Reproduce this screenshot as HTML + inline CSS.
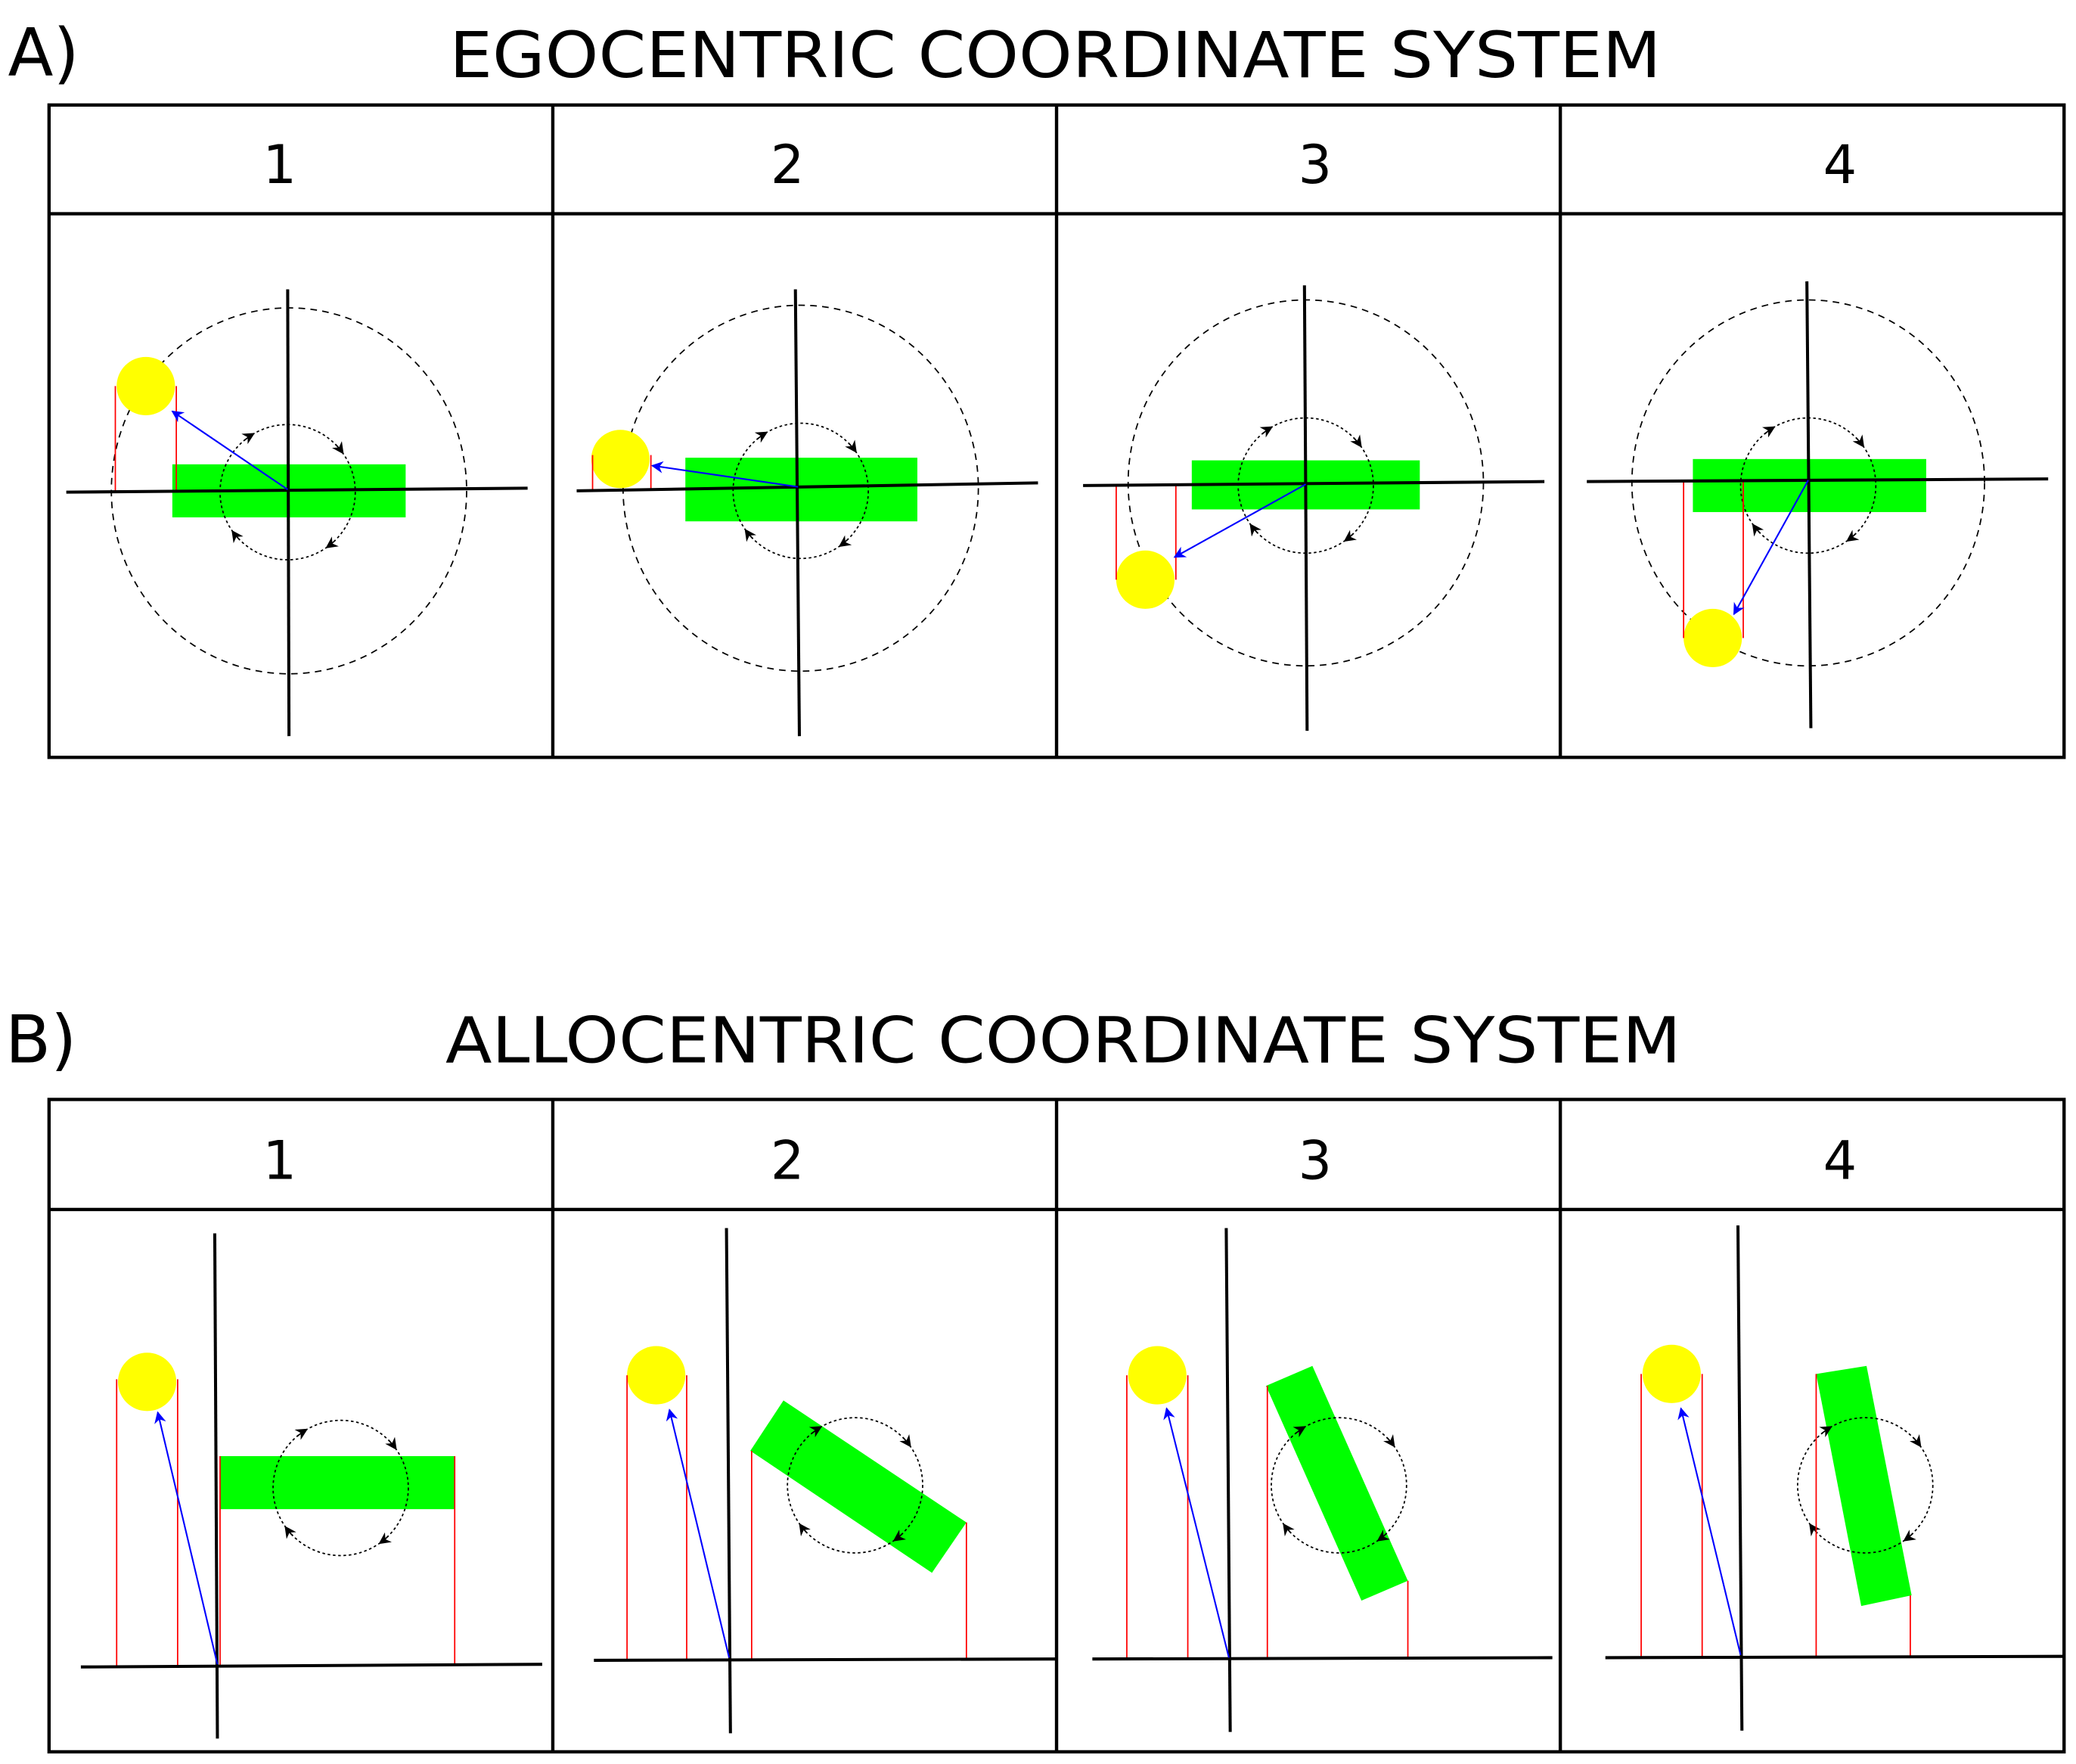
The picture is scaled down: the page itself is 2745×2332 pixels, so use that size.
<!DOCTYPE html>
<html><head><meta charset="utf-8"><style>html,body{margin:0;padding:0;background:#fff}svg{display:block}</style></head>
<body>
<svg width="2745" height="2332" viewBox="0 0 1566 1330" xmlns="http://www.w3.org/2000/svg">
<defs>
<marker id="ah" viewBox="0 0 10 10" refX="9" refY="5" markerWidth="9" markerHeight="9" orient="auto" markerUnits="userSpaceOnUse"><path d="M0,0 L10,5 L0,10 L3,5 Z" fill="#000"/></marker>
<marker id="bh" viewBox="0 0 10 10" refX="9" refY="5" markerWidth="9" markerHeight="9" orient="auto" markerUnits="userSpaceOnUse"><path d="M0,0 L10,5 L0,10 L3,5 Z" fill="#00f"/></marker>
<g id="rot" fill="none" stroke="#000" stroke-width="1">
<circle r="51" stroke-dasharray="2,2"/>
<path d="M -32.8 -39 A 51 51 0 0 1 -25.5 -44.2" marker-end="url(#ah)"/>
<path d="M 36.1 -36.1 A 51 51 0 0 1 41.8 -29.3" marker-end="url(#ah)"/>
<path d="M 36.1 36.1 A 51 51 0 0 1 29.3 41.8" marker-end="url(#ah)"/>
<path d="M -36.1 36.1 A 51 51 0 0 1 -41.8 29.3" marker-end="url(#ah)"/>
</g>
</defs>
<rect width="1566" height="1330" fill="#fff"/>
<g font-family="DejaVu Sans, Liberation Sans, sans-serif" fill="#000">
<text x="6" y="57" font-size="50">A)</text>
<text x="796" y="58" font-size="48" text-anchor="middle" textLength="914" lengthAdjust="spacingAndGlyphs">EGOCENTRIC COORDINATE SYSTEM</text>
<text x="4" y="801" font-size="50">B)</text>
<text x="802" y="801" font-size="48" text-anchor="middle" textLength="932" lengthAdjust="spacingAndGlyphs">ALLOCENTRIC COORDINATE SYSTEM</text>
<g font-size="40" text-anchor="middle">
<text x="211" y="138">1</text><text x="594" y="138">2</text><text x="992" y="138">3</text><text x="1388" y="138">4</text>
<text x="211" y="889">1</text><text x="594" y="889">2</text><text x="992" y="889">3</text><text x="1388" y="889">4</text>
</g>
</g>
<g fill="none" stroke="#000" stroke-width="2.5">
<rect x="37" y="79" width="1520" height="492"/>
<line x1="37" y1="161" x2="1557" y2="161"/>
<line x1="417" y1="79" x2="417" y2="571"/><line x1="797" y1="79" x2="797" y2="571"/><line x1="1177" y1="79" x2="1177" y2="571"/>
<rect x="37" y="829" width="1520" height="492"/>
<line x1="37" y1="912" x2="1557" y2="912"/>
<line x1="417" y1="829" x2="417" y2="1321"/><line x1="797" y1="829" x2="797" y2="1321"/><line x1="1177" y1="829" x2="1177" y2="1321"/>
</g>

<!-- A1 -->
<rect x="130" y="350" width="176" height="40" fill="#00ff00"/>
<ellipse cx="218" cy="370" rx="134" ry="138" fill="none" stroke="#000" stroke-width="1" stroke-dasharray="5,4"/>
<use href="#rot" x="217" y="371"/>
<circle cx="110" cy="291" r="22" fill="#ffff00"/>
<g stroke="red" stroke-width="1"><line x1="87" y1="291" x2="87" y2="370"/><line x1="133" y1="291" x2="133" y2="370"/></g>
<g stroke="#000" stroke-width="2.3"><line x1="217" y1="218" x2="218" y2="555"/><line x1="50" y1="371" x2="398" y2="368"/></g>
<line x1="217" y1="369" x2="130" y2="310" stroke="#00f" stroke-width="1.2" marker-end="url(#bh)"/>

<!-- A2 -->
<rect x="517" y="345" width="175" height="48" fill="#00ff00"/>
<ellipse cx="604" cy="368" rx="134" ry="138" fill="none" stroke="#000" stroke-width="1" stroke-dasharray="5,4"/>
<use href="#rot" x="604" y="370"/>
<circle cx="468" cy="346" r="22" fill="#ffff00"/>
<g stroke="red" stroke-width="1"><line x1="447" y1="343" x2="447" y2="370"/><line x1="491" y1="343" x2="491" y2="370"/></g>
<g stroke="#000" stroke-width="2.3"><line x1="600" y1="218" x2="603" y2="555"/><line x1="435" y1="370" x2="783" y2="364"/></g>
<line x1="602" y1="367" x2="492" y2="351" stroke="#00f" stroke-width="1.2" marker-end="url(#bh)"/>

<!-- A3 -->
<rect x="899" y="347" width="172" height="37" fill="#00ff00"/>
<ellipse cx="985" cy="364" rx="134" ry="138" fill="none" stroke="#000" stroke-width="1" stroke-dasharray="5,4"/>
<use href="#rot" x="985" y="366"/>
<circle cx="864" cy="437" r="22" fill="#ffff00"/>
<g stroke="red" stroke-width="1"><line x1="842" y1="366" x2="842" y2="437"/><line x1="887" y1="366" x2="887" y2="437"/></g>
<g stroke="#000" stroke-width="2.3"><line x1="984" y1="215" x2="986" y2="551"/><line x1="817" y1="366" x2="1165" y2="363"/></g>
<line x1="985" y1="365" x2="886" y2="420" stroke="#00f" stroke-width="1.2" marker-end="url(#bh)"/>

<!-- A4 -->
<rect x="1277" y="346" width="176" height="40" fill="#00ff00"/>
<ellipse cx="1364" cy="364" rx="133" ry="138" fill="none" stroke="#000" stroke-width="1" stroke-dasharray="5,4"/>
<use href="#rot" x="1364" y="366"/>
<circle cx="1292" cy="481" r="22" fill="#ffff00"/>
<g stroke="red" stroke-width="1"><line x1="1270" y1="362" x2="1270" y2="481"/><line x1="1315" y1="362" x2="1315" y2="481"/></g>
<g stroke="#000" stroke-width="2.3"><line x1="1363" y1="212" x2="1366" y2="549"/><line x1="1197" y1="363" x2="1545" y2="361"/></g>
<line x1="1364" y1="362" x2="1308" y2="463" stroke="#00f" stroke-width="1.2" marker-end="url(#bh)"/>

<!-- B1 -->
<rect x="166" y="1098" width="177" height="40" fill="#00ff00"/>
<use href="#rot" x="257" y="1122"/>
<circle cx="111" cy="1042" r="22" fill="#ffff00"/>
<g stroke="red" stroke-width="1"><line x1="88" y1="1040" x2="88" y2="1256"/><line x1="134" y1="1040" x2="134" y2="1256"/><line x1="166" y1="1098" x2="166" y2="1256"/><line x1="343" y1="1098" x2="343" y2="1256"/></g>
<g stroke="#000" stroke-width="2.3"><line x1="162" y1="930" x2="164" y2="1311"/><line x1="61" y1="1257" x2="409" y2="1255"/></g>
<line x1="164" y1="1255" x2="119" y2="1065" stroke="#00f" stroke-width="1.2" marker-end="url(#bh)"/>

<!-- B2 -->
<polygon points="591,1056 729,1148 703,1186 566,1094" fill="#00ff00"/>
<use href="#rot" x="645" y="1120"/>
<circle cx="495" cy="1037" r="22" fill="#ffff00"/>
<g stroke="red" stroke-width="1"><line x1="473" y1="1037" x2="473" y2="1252"/><line x1="518" y1="1037" x2="518" y2="1252"/><line x1="567" y1="1094" x2="567" y2="1252"/><line x1="729" y1="1148" x2="729" y2="1252"/></g>
<g stroke="#000" stroke-width="2.3"><line x1="548" y1="926" x2="551" y2="1307"/><line x1="448" y1="1252" x2="797" y2="1251"/></g>
<line x1="550" y1="1250" x2="505" y2="1063" stroke="#00f" stroke-width="1.2" marker-end="url(#bh)"/>

<!-- B3 -->
<polygon points="955,1045 990,1030 1062,1192 1027,1207" fill="#00ff00"/>
<use href="#rot" x="1010" y="1120"/>
<circle cx="873" cy="1037" r="22" fill="#ffff00"/>
<g stroke="red" stroke-width="1"><line x1="850" y1="1037" x2="850" y2="1251"/><line x1="896" y1="1037" x2="896" y2="1251"/><line x1="956" y1="1045" x2="956" y2="1251"/><line x1="1062" y1="1192" x2="1062" y2="1251"/></g>
<g stroke="#000" stroke-width="2.3"><line x1="925" y1="926" x2="928" y2="1306"/><line x1="824" y1="1251" x2="1171" y2="1250"/></g>
<line x1="927" y1="1250" x2="880" y2="1062" stroke="#00f" stroke-width="1.2" marker-end="url(#bh)"/>

<!-- B4 -->
<polygon points="1370,1036 1408,1030 1442,1203 1404,1211" fill="#00ff00"/>
<use href="#rot" x="1407" y="1120"/>
<circle cx="1261" cy="1036" r="22" fill="#ffff00"/>
<g stroke="red" stroke-width="1"><line x1="1238" y1="1036" x2="1238" y2="1250"/><line x1="1284" y1="1036" x2="1284" y2="1250"/><line x1="1370" y1="1036" x2="1370" y2="1250"/><line x1="1441" y1="1203" x2="1441" y2="1250"/></g>
<g stroke="#000" stroke-width="2.3"><line x1="1311" y1="924" x2="1314" y2="1305"/><line x1="1211" y1="1250" x2="1557" y2="1249"/></g>
<line x1="1313" y1="1248" x2="1268" y2="1062" stroke="#00f" stroke-width="1.2" marker-end="url(#bh)"/>
</svg>
</body></html>
